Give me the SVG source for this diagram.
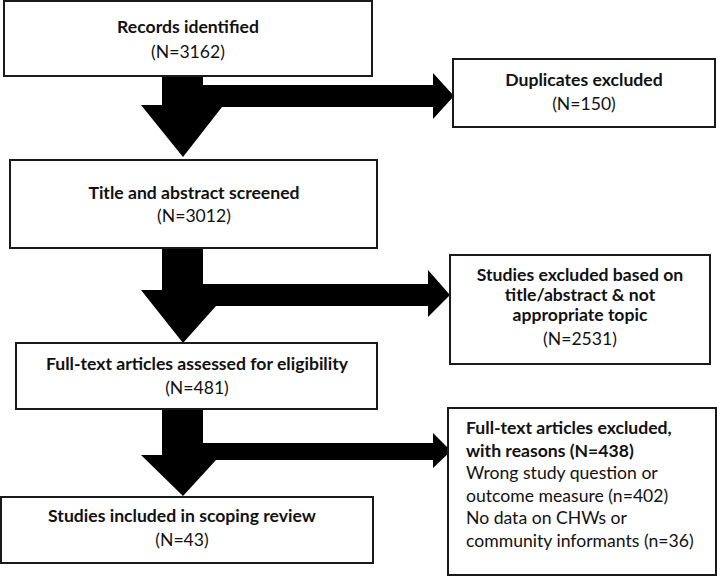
<svg xmlns="http://www.w3.org/2000/svg" width="717" height="585" viewBox="0 0 717 585">
<style>
.box{fill:#fff;stroke:#1a1a1a;stroke-width:2}
.t{font-family:Lato,"Open Sans","Liberation Sans",sans-serif;font-size:17.6px;fill:#111;text-anchor:middle}
.b{font-weight:bold}
.l{text-anchor:start}
.arr{fill:#000}
</style>
<rect width="717" height="585" fill="#fff"/>
<g id="connectors" class="arr">
<polygon points="162,76 203,76 203,85 433,85 433,73 454,96 433,119 433,107 222,107 183,157 141,105 162,105"/>
<polygon points="162,248 203,248 203,284 428,284 428,270 450,295 428,317 428,306 216,306 183,343 141,290 162,290"/>
<polygon points="162,409 203,409 203,443 433,443 433,433 451,451 433,468 433,460 216,460 183,496 141,455 162,455"/>
</g>
<g id="n1"><rect class="box" x="4" y="1" width="368" height="75"/>
<text class="t b" x="188" y="33">Records identified</text><text class="t" x="188" y="58">(N=3162)</text></g>
<g id="n2"><rect class="box" x="453" y="59" width="262" height="68"/>
<text class="t b" x="584" y="86">Duplicates excluded</text><text class="t" x="584" y="110">(N=150)</text></g>
<g id="n3"><rect class="box" x="10" y="160" width="367" height="88"/>
<text class="t b" x="194" y="199">Title and abstract screened</text><text class="t" x="194" y="222">(N=3012)</text></g>
<g id="n4"><rect class="box" x="450" y="255" width="260" height="109"/>
<text class="t b" x="580" y="281">Studies excluded based on</text><text class="t b" x="580" y="301">title/abstract &amp; not</text><text class="t b" x="580" y="321">appropriate topic</text><text class="t" x="580" y="345">(N=2531)</text></g>
<g id="n5"><rect class="box" x="16" y="343" width="361" height="66"/>
<text class="t b" x="197" y="370">Full-text articles assessed for eligibility</text><text class="t" x="197" y="394">(N=481)</text></g>
<g id="n6"><rect class="box" x="448" y="408" width="268" height="167"/>
<text class="t b l" x="466" y="434">Full-text articles excluded,</text><text class="t b l" x="466" y="457">with reasons (N=438)</text>
<text class="t l" x="466" y="479">Wrong study question or</text><text class="t l" x="466" y="502">outcome measure (n=402)</text>
<text class="t l" x="466" y="524">No data on CHWs or</text><text class="t l" x="466" y="547">community informants (n=36)</text></g>
<g id="n7"><rect class="box" x="1" y="497" width="372" height="66"/>
<text class="t b" x="182" y="522">Studies included in scoping review</text><text class="t" x="182" y="546">(N=43)</text></g>
</svg>
